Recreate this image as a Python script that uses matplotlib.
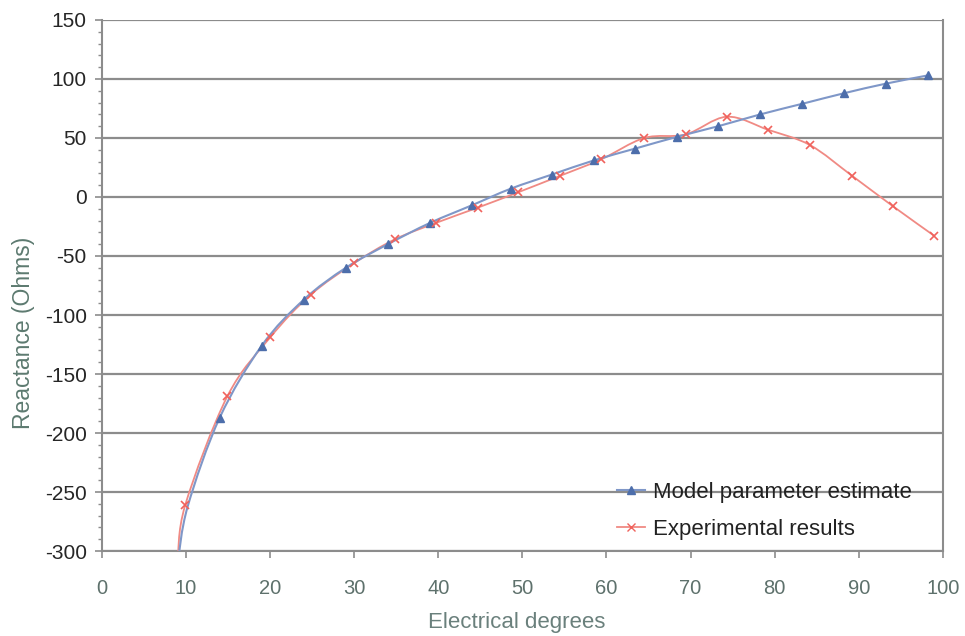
import numpy as np
import matplotlib.pyplot as plt
from matplotlib.path import Path
from matplotlib.patches import PathPatch
from matplotlib.lines import Line2D
from matplotlib.ticker import MultipleLocator

plt.rcParams['font.family'] = ['Liberation Sans', 'DejaVu Sans']
plt.rcParams['axes.unicode_minus'] = False

# Модельная оценка параметров
model_x = [9, 10.2, 14, 19, 24, 29, 34, 39, 44, 48.6, 53.5, 58.5, 63.4, 68.4,
           73.3, 78.3, 83.3, 88.3, 93.2, 98.2]
model_y = [-310, -262, -187, -126, -87, -60, -40, -22, -7, 7, 19, 31, 41, 51,
           60, 70, 79, 88, 96, 103]

# Экспериментальные результаты
exp_x = [9.0, 9.9, 14.9, 20.0, 24.8, 30.0, 34.8, 39.7, 44.7, 49.5, 54.5, 59.4,
         64.5, 69.4, 74.3, 79.2, 84.2, 89.2, 94.1, 99.0]
exp_y = [-310, -261, -169, -119, -83, -56, -36, -22, -9, 4, 18, 32, 50, 53, 68,
         57, 44, 18, -8, -33]

axis_col = '#8c8c8c'


# Сглаженная линия (как в Excel) через кривые Безье
def smooth_path(xs, ys):
    p = np.column_stack([xs, ys]).astype(float)
    ext = np.vstack([p[0], p, p[-1]])
    verts = [p[0]]
    codes = [Path.MOVETO]
    for i in range(1, len(ext) - 2):
        c1 = ext[i] + (ext[i + 1] - ext[i - 1]) / 6
        c2 = ext[i + 1] - (ext[i + 2] - ext[i]) / 6
        verts += [c1, c2, ext[i + 1]]
        codes += [Path.CURVE4] * 3
    return Path(verts, codes)


fig = plt.figure(figsize=(9.65, 6.36), dpi=100)
ax = fig.add_axes([0.1057, 0.1336, 0.8713, 0.835])

ax.add_patch(PathPatch(smooth_path(exp_x, exp_y), fc='none', ec='#f08a84', lw=1.3, zorder=3))
ax.add_patch(PathPatch(smooth_path(model_x, model_y), fc='none', ec='#7f97c8', lw=1.5, zorder=4))
# маркеры: на краю графика у модели их не видно
ax.plot(model_x[2:], model_y[2:], ls='none', marker='^', ms=6, color='#4d6eab', zorder=5)
ax.plot(exp_x[1:], exp_y[1:], ls='none', marker='x', ms=6, mew=1.2, color='#f0625c', zorder=6)

ax.set_xlim(0, 100)
ax.set_ylim(-300, 150)
ax.xaxis.set_major_locator(MultipleLocator(10))
ax.yaxis.set_major_locator(MultipleLocator(50))
ax.yaxis.set_minor_locator(MultipleLocator(10))
ax.grid(True, axis='y', color=axis_col, lw=1.6)
ax.set_axisbelow(True)

ax.spines['top'].set_visible(False)
for s in ['left', 'bottom', 'right']:
    ax.spines[s].set_color(axis_col)
    ax.spines[s].set_linewidth(1.5)

ax.tick_params(axis='both', which='major', color=axis_col, length=5, width=1.2)
ax.tick_params(axis='y', which='minor', color=axis_col, length=3, width=1)
ax.tick_params(axis='y', labelsize=15, labelcolor='#262626', pad=6)
ax.tick_params(axis='x', labelsize=14.5, labelcolor='#5e716c', pad=15)

fig.text(0.535, 0.022, 'Electrical degrees', fontsize=16, color='#6a807c',
         ha='center', va='center')
fig.text(0.024, 0.476, 'Reactance (Ohms)', fontsize=16.5, color='#5d7a70',
         ha='center', va='center', rotation=90)

handles = [
    Line2D([], [], color='#7f97c8', marker='^', ms=6, mfc='#4d6eab', mec='#4d6eab', lw=1.5),
    Line2D([], [], color='#f08a84', marker='x', ms=6, mec='#f0625c', lw=1.3),
]
fig.legend(handles, ['Model parameter estimate', 'Experimental results'],
           loc='upper left', bbox_to_anchor=(0.6394, 0.2420), frameon=False,
           fontsize=16, labelspacing=0.72, handlelength=1.25, handletextpad=0.35,
           borderpad=0, borderaxespad=0, labelcolor='#222222')

fig.savefig('out.png', dpi=100)
